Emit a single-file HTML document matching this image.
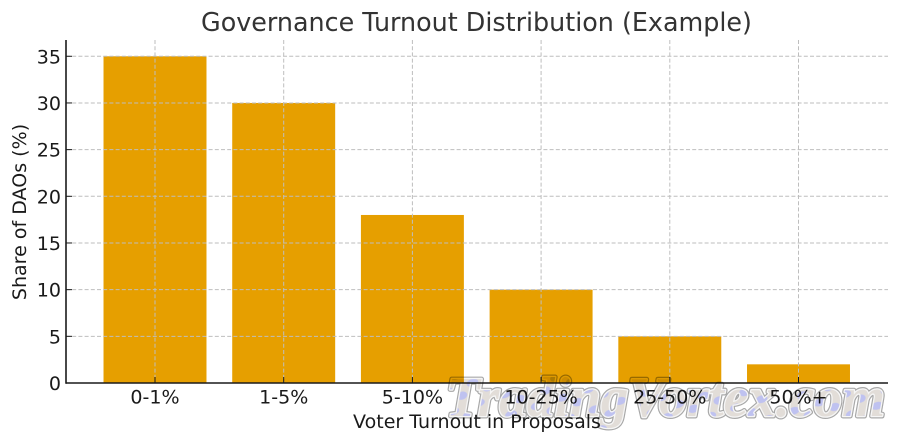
<!DOCTYPE html>
<html>
<head>
<meta charset="utf-8">
<title>Governance Turnout Distribution (Example)</title>
<style>
html,body{margin:0;padding:0;background:#fff;}
svg{display:block;font-family:"DejaVu Sans","Liberation Sans",sans-serif;}
</style>
</head>
<body>
<svg id="chart" xmlns="http://www.w3.org/2000/svg" width="899" height="444" viewBox="0 0 899 444">
  <defs>
    <pattern id="wm-fill" patternUnits="userSpaceOnUse" width="27" height="21" patternTransform="rotate(-18)">
      <rect width="27" height="21" fill="#e2ddd8"/>
      <ellipse cx="7" cy="6" rx="6" ry="3.8" fill="#bfc2f0"/>
      <ellipse cx="20" cy="15" rx="5.5" ry="4" fill="#bfc2f0"/>
    </pattern>
  </defs>
  <rect width="899" height="444" fill="#ffffff"/>
  <text x="476.5" y="31" text-anchor="middle" font-size="25.4" fill="#333333">Governance Turnout Distribution (Example)</text>
  <g id="bars"></g>
  <g id="grid"></g>
  <g id="axes"></g>
  <text x="477" y="428" text-anchor="middle" font-size="19.05" fill="#1a1a1a">Voter Turnout in Proposals</text>
  <text transform="translate(26,212) rotate(-90)" text-anchor="middle" font-size="19.05" fill="#1a1a1a">Share of DAOs (%)</text>
  <g style="font-family:'Liberation Serif',serif;font-weight:bold;font-style:italic;mix-blend-mode:multiply;">
    <text x="446" y="416" font-size="56" textLength="439" lengthAdjust="spacingAndGlyphs" fill="none" stroke="#a8a8a8" stroke-width="5" stroke-linejoin="round">TradingVortex.com</text>
    <text x="446" y="416" font-size="56" textLength="439" lengthAdjust="spacingAndGlyphs" fill="url(#wm-fill)" stroke="#f6f6f6" stroke-width="2.6" stroke-linejoin="round" paint-order="stroke">TradingVortex.com</text>
  </g>
</svg>
<script>
const categories = ["0-1%", "1-5%", "5-10%", "10-25%", "25-50%", "50%+"];
const shareOfDaos = [35, 30, 18, 10, 5, 2];
const yTickValues = [0, 5, 10, 15, 20, 25, 30, 35];

const NS = "http://www.w3.org/2000/svg";
const plot = { left: 66, right: 888, top: 40, bottom: 383 };
const xStep = 128.7;
const xFirst = 155;
const unitHeight = 9.335;
const barWidth = xStep * 0.8;

function xScale(i) { return xFirst + i * xStep; }
function yScale(v) { return plot.bottom - v * unitHeight; }

function make(tag, attrs, parent) {
  const el = document.createElementNS(NS, tag);
  for (const k in attrs) el.setAttribute(k, attrs[k]);
  parent.appendChild(el);
  return el;
}

const barsG = document.getElementById("bars");
const gridG = document.getElementById("grid");
const axesG = document.getElementById("axes");
const gridStyle = { stroke: "#bebebe", "stroke-width": 1, "stroke-dasharray": "4 2.2" };

shareOfDaos.forEach(function (v, i) {
  const bar = make("rect", { x: xScale(i) - barWidth / 2, y: yScale(v), width: barWidth, height: plot.bottom - yScale(v), fill: "#e69f00" }, barsG);
  
  
});

yTickValues.forEach(function (v) {
  const y = yScale(v);
  if (v !== 0) {
    const line = make("line", Object.assign({ x1: plot.left, x2: plot.right, y1: y, y2: y }, gridStyle), gridG);
    
    
  }
  const tick = make("line", { x1: plot.left, x2: plot.left + 6, y1: y, y2: y, stroke: "#1a1a1a", "stroke-width": 1 }, axesG);
  
  
  const label = make("text", { x: plot.left - 5, y: y + 7, "text-anchor": "end", "font-size": 19.05, fill: "#1a1a1a" }, axesG);
  label.textContent = String(v);
  
  
});

categories.forEach(function (c, i) {
  const x = xScale(i);
  const line = make("line", Object.assign({ x1: x, x2: x, y1: plot.top, y2: plot.bottom }, gridStyle), gridG);
  
  
  const tick = make("line", { x1: x, x2: x, y1: plot.bottom, y2: plot.bottom - 6, stroke: "#1a1a1a", "stroke-width": 1 }, axesG);
  
  
  const label = make("text", { x: x, y: 403.5, "text-anchor": "middle", "font-size": 19.05, fill: "#1a1a1a" }, axesG);
  label.textContent = c;
  
  
});

const yAxis = make("line", { x1: plot.left, x2: plot.left, y1: plot.top, y2: plot.bottom + 0.8, stroke: "#1a1a1a", "stroke-width": 1.6 }, axesG);


const xAxis = make("line", { x1: plot.left, x2: plot.right, y1: plot.bottom, y2: plot.bottom, stroke: "#1a1a1a", "stroke-width": 1.6 }, axesG);


</script>
</body>
</html>
